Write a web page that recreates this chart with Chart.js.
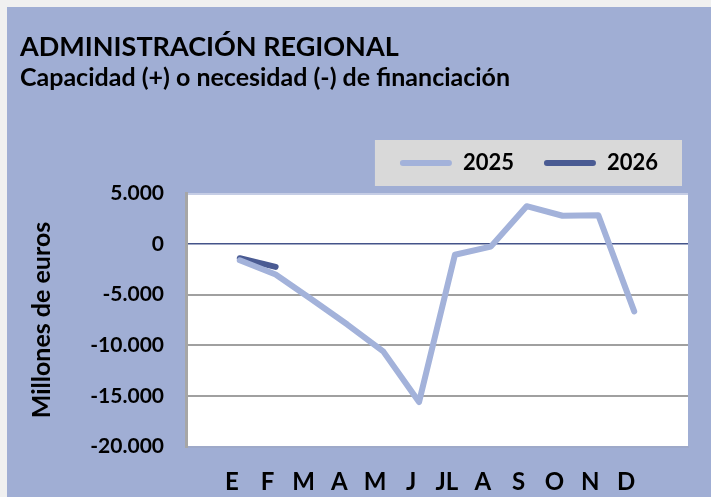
<!DOCTYPE html>
<html>
<head>
<meta charset="utf-8">
<script src="https://cdn.jsdelivr.net/npm/chart.js@4"></script>
<style>
  html, body { margin: 0; padding: 0; background: #f0f0f0; width: 711px; height: 497px; overflow: hidden; }
  #wrap { position: absolute; left: 7px; top: 7px; width: 704px; height: 490px; }
</style>
</head>
<body>
<div id="wrap"><canvas id="c" width="704" height="490"></canvas></div>
<script>
const months = ['E', 'F', 'M', 'A', 'M', 'J', 'JL', 'A', 'S', 'O', 'N', 'D'];
const values2025 = [-1600, -3000, -5450, -7950, -10600, -15600, -1050, -250, 3750, 2800, 2850, -6650];
const values2026 = [-1400, -2250];
const seriesNames = ['2025', '2026'];
const yMin = -20000, yMax = 5000, yStep = 5000;

const labels = [''].concat(months, ['']);
const data2025 = [null].concat(values2025, [null]);
const data2026 = [null].concat(values2026);
while (data2026.length < labels.length) data2026.push(null);

function fmt(v) {
  const s = String(Math.abs(v)).replace(/\B(?=(\d{3})+(?!\d))/g, '.');
  return (v < 0 ? '-' : '') + s;
}

const bgPlugin = {
  id: 'bg',
  beforeDraw(chart) {
    const ctx = chart.ctx;
    ctx.save();
    ctx.fillStyle = '#a0aed4';
    ctx.fillRect(0, 0, chart.width, chart.height);
    const a = chart.chartArea;
    ctx.fillStyle = '#ffffff';
    ctx.fillRect(a.left, a.top, a.right - a.left, a.bottom - a.top);
    const lg = chart.legend;
    if (lg && lg.legendHitBoxes && lg.legendHitBoxes.length) {
      const hb = lg.legendHitBoxes;
      const first = hb[0], last = hb[hb.length - 1];
      const cy = first.top + first.height / 2;
      ctx.fillStyle = '#d9d9d9';
      const x0 = first.left - 25, x1 = last.left + last.width + 24;
      ctx.fillRect(x0, cy - 23, x1 - x0, 46);
    }
    ctx.restore();
  }
};

function build() {
  new Chart(document.getElementById('c'), {
    type: 'line',
    data: {
      labels: labels,
      datasets: [
        { label: seriesNames[0], data: data2025, xAxisID: 'x', yAxisID: 'y',
          borderColor: '#a3b2da', backgroundColor: '#a3b2da',
          borderWidth: 6, pointRadius: 0, tension: 0, borderCapStyle: 'round', borderJoinStyle: 'round', spanGaps: false },
        { label: seriesNames[1], data: data2026, xAxisID: 'x', yAxisID: 'y',
          borderColor: '#4a5b93', backgroundColor: '#4a5b93',
          borderWidth: 6, pointRadius: 0, tension: 0, borderCapStyle: 'round', borderJoinStyle: 'round', spanGaps: false }
      ]
    },
    options: {
      responsive: false,
      animation: false,
      layout: { padding: { left: 13, right: 23, top: 0, bottom: 0 } },
      plugins: {
        tooltip: { enabled: false },
        title: {
          display: true, text: 'ADMINISTRACIÓN REGIONAL', align: 'start', color: '#000',
          font: { family: 'Lato', size: 27, weight: 'bold' }, padding: { top: 24, bottom: 0 }
        },
        subtitle: {
          display: true, text: 'Capacidad (+) o necesidad (-) de financiación', align: 'start', color: '#000',
          font: { family: 'Lato', size: 25, weight: 'bold' }, padding: { top: 0, bottom: 28.6 }
        },
        legend: {
          display: true, position: 'top', align: 'end',
          labels: {
            color: '#000', font: { family: 'Lato', size: 22, weight: 'bold' },
            boxWidth: 52, boxHeight: 6, padding: 30, useBorderRadius: true, borderRadius: 3,
            generateLabels(chart) {
              return chart.data.datasets.map((ds, i) => ({
                text: ds.label, fillStyle: ds.borderColor, strokeStyle: ds.borderColor, lineWidth: 0,
                hidden: false, datasetIndex: i, borderRadius: 3, fontColor: '#000'
              }));
            }
          }
        }
      },
      scales: {
        x: {
          type: 'category', offset: true, position: 'bottom',
          grid: { display: false, drawTicks: false },
          border: { display: true, color: '#9ea9c9', width: 2 },
          ticks: { autoSkip: false, maxRotation: 0, minRotation: 0, padding: 21, labelOffset: -8, color: '#000',
            font: { family: 'Lato', size: 24, weight: 'bold' } },
          afterFit(s) { s.height = 50.5; }
        },
        y: {
          min: yMin, max: yMax,
          grid: {
            drawTicks: false,
            color: (c) => c.tick.value === 0 ? '#44548a' : (c.tick.value === yMax ? '#c5cde5' : '#a0a0a0'),
            lineWidth: (c) => c.tick.value === 0 ? 1.5 : 2
          },
          border: { display: true, color: '#a6a6a6', width: 3 },
          ticks: { stepSize: yStep, padding: 22, color: '#000', callback: (v) => fmt(v),
            font: { family: 'Lato', size: 21, weight: 'bold' } },
          title: { display: true, text: 'Millones de euros', color: '#000',
            font: { family: 'Lato', size: 25, weight: 'bold' }, padding: { top: 7, bottom: 30 } },
          afterFit(s) { s.width = 166; }
        },
        xTop: {
          type: 'category', position: 'top', display: true, axis: 'x',
          grid: { display: false, drawTicks: false }, border: { display: false },
          ticks: { display: false },
          afterFit(s) { s.height = 9.5; }
        }
      }
    },
    plugins: [bgPlugin]
  });
}

const loads = [21, 22, 24, 25, 27].map(sz => document.fonts.load('bold ' + sz + 'px Lato'));
Promise.all(loads).then(build, build);
</script>
</body>
</html>
